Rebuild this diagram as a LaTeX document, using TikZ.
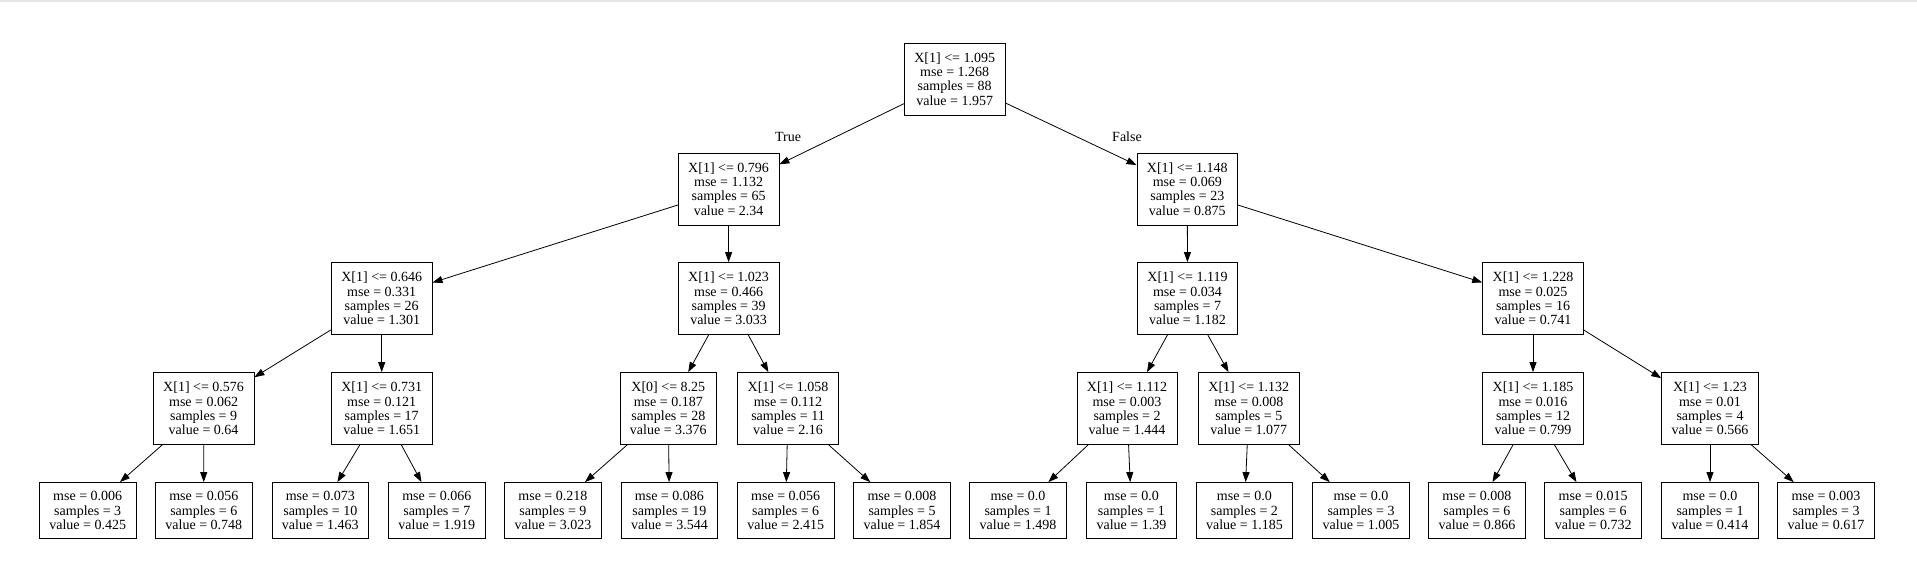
\documentclass[tikz,border=0pt]{standalone}
\usepackage{fontspec}
\setmainfont{Liberation Serif}
\usetikzlibrary{arrows.meta}

\begin{document}
\begin{tikzpicture}[x=1pt, y=-1pt,
        box/.style={draw, rectangle, line width=0.8pt, align=center, inner xsep=10pt, inner ysep=0pt,
            minimum height=72pt, font=\fontsize{14}{14.4}\selectfont},
        leaf/.style={box, minimum height=56pt},
        lab/.style={font=\fontsize{14}{14.4}\selectfont},
        edge/.style={line width=0.8pt, -{Triangle[length=10pt, width=7pt]}}]
        \useasboundingbox (0,0) rectangle (1917,580);
        \draw [black!10, line width=2pt] (0,1) -- (1917,1);

        % splits
        \node[box] (n0) at (954.7, 79) {X[1] <= 1.095\\mse = 1.268\\samples = 88\\value = 1.957};
        \node[box] (n1) at (728.6, 189) {X[1] <= 0.796\\mse = 1.132\\samples = 65\\value = 2.34};
        \node[box] (n16) at (1187.3, 189) {X[1] <= 1.148\\mse = 0.069\\samples = 23\\value = 0.875};
        \node[box] (n2) at (381.7, 298.5) {X[1] <= 0.646\\mse = 0.331\\samples = 26\\value = 1.301};
        \node[box] (n9) at (728.6, 298.5) {X[1] <= 1.023\\mse = 0.466\\samples = 39\\value = 3.033};
        \node[box] (n17) at (1187.5, 298.5) {X[1] <= 1.119\\mse = 0.034\\samples = 7\\value = 1.182};
        \node[box] (n24) at (1533, 298.5) {X[1] <= 1.228\\mse = 0.025\\samples = 16\\value = 0.741};
        \node[box] (n3) at (203.6, 408.5) {X[1] <= 0.576\\mse = 0.062\\samples = 9\\value = 0.64};
        \node[box] (n6) at (381.7, 408.5) {X[1] <= 0.731\\mse = 0.121\\samples = 17\\value = 1.651};
        \node[box] (n10) at (668.3, 408.5) {X[0] <= 8.25\\mse = 0.187\\samples = 28\\value = 3.376};
        \node[box] (n13) at (788, 408.5) {X[1] <= 1.058\\mse = 0.112\\samples = 11\\value = 2.16};
        \node[box] (n18) at (1127, 408.5) {X[1] <= 1.112\\mse = 0.003\\samples = 2\\value = 1.444};
        \node[box] (n21) at (1248.8, 408.5) {X[1] <= 1.132\\mse = 0.008\\samples = 5\\value = 1.077};
        \node[box] (n25) at (1533, 408.5) {X[1] <= 1.185\\mse = 0.016\\samples = 12\\value = 0.799};
        \node[box] (n28) at (1710, 408.5) {X[1] <= 1.23\\mse = 0.01\\samples = 4\\value = 0.566};

        % leaves
        \node[leaf] (n4) at (87.7, 510.5) {mse = 0.006\\samples = 3\\value = 0.425};
        \node[leaf] (n5) at (203.8, 510.5) {mse = 0.056\\samples = 6\\value = 0.748};
        \node[leaf] (n7) at (320.3, 510.5) {mse = 0.073\\samples = 10\\value = 1.463};
        \node[leaf] (n8) at (436.8, 510.5) {mse = 0.066\\samples = 7\\value = 1.919};
        \node[leaf] (n11) at (552.9, 510.5) {mse = 0.218\\samples = 9\\value = 3.023};
        \node[leaf] (n12) at (669.4, 510.5) {mse = 0.086\\samples = 19\\value = 3.544};
        \node[leaf] (n14) at (785.7, 510.5) {mse = 0.056\\samples = 6\\value = 2.415};
        \node[leaf] (n15) at (902, 510.5) {mse = 0.008\\samples = 5\\value = 1.854};
        \node[leaf] (n19) at (1018, 510.5) {mse = 0.0\\samples = 1\\value = 1.498};
        \node[leaf] (n20) at (1131.4, 510.5) {mse = 0.0\\samples = 1\\value = 1.39};
        \node[leaf] (n22) at (1244.4, 510.5) {mse = 0.0\\samples = 2\\value = 1.185};
        \node[leaf] (n23) at (1361, 510.5) {mse = 0.0\\samples = 3\\value = 1.005};
        \node[leaf] (n26) at (1476.9, 510.5) {mse = 0.008\\samples = 6\\value = 0.866};
        \node[leaf] (n27) at (1593.2, 510.5) {mse = 0.015\\samples = 6\\value = 0.732};
        \node[leaf] (n29) at (1710, 510.5) {mse = 0.0\\samples = 1\\value = 0.414};
        \node[leaf] (n30) at (1826, 510.5) {mse = 0.003\\samples = 3\\value = 0.617};

        \node[lab] (ltrue) at (788, 137) {True};
        \node[lab] (lfalse) at (1127, 137) {False};

        \draw[edge] (n0) -- (n1);
        \draw[edge] (n0) -- (n16);
        \draw[edge] (n1) -- (n2);
        \draw[edge] (n1) -- (n9);
        \draw[edge] (n16) -- (n17);
        \draw[edge] (n16) -- (n24);
        \draw[edge] (n2) -- (n3);
        \draw[edge] (n2) -- (n6);
        \draw[edge] (n9) -- (n10);
        \draw[edge] (n9) -- (n13);
        \draw[edge] (n17) -- (n18);
        \draw[edge] (n17) -- (n21);
        \draw[edge] (n24) -- (n25);
        \draw[edge] (n24) -- (n28);
        \draw[edge] (n3) -- (n4);
        \draw[edge] (n3) -- (n5);
        \draw[edge] (n6) -- (n7);
        \draw[edge] (n6) -- (n8);
        \draw[edge] (n10) -- (n11);
        \draw[edge] (n10) -- (n12);
        \draw[edge] (n13) -- (n14);
        \draw[edge] (n13) -- (n15);
        \draw[edge] (n18) -- (n19);
        \draw[edge] (n18) -- (n20);
        \draw[edge] (n21) -- (n22);
        \draw[edge] (n21) -- (n23);
        \draw[edge] (n25) -- (n26);
        \draw[edge] (n25) -- (n27);
        \draw[edge] (n28) -- (n29);
        \draw[edge] (n28) -- (n30);
    \end{tikzpicture}
\end{document}
